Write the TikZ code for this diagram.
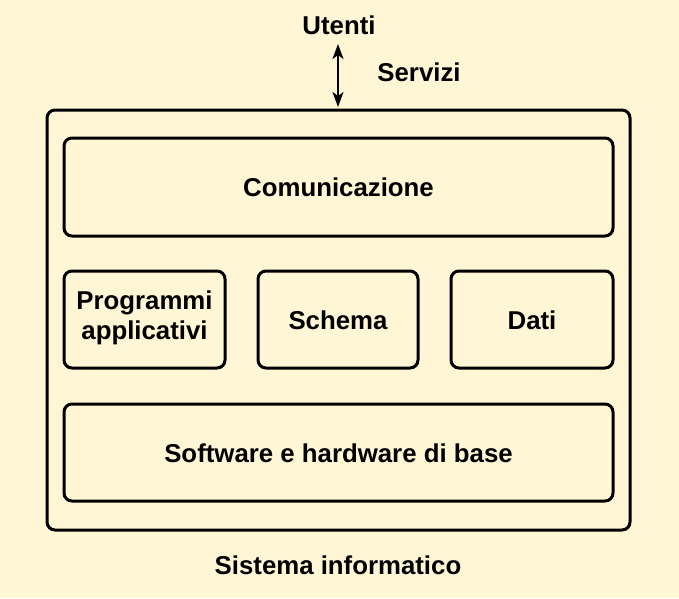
\documentclass[tikz,border=0pt]{standalone}
\usepackage{fontspec}
\setmainfont{Liberation Sans}
\usetikzlibrary{arrows.meta}
\definecolor{bgcol}{RGB}{255,246,214}
\begin{document}
\begin{tikzpicture}[x=1pt,y=-1pt,
  lbl/.style={font=\fontsize{25.8}{30}\selectfont\bfseries, inner sep=0pt, align=center},
  blk/.style={draw=black, line width=3pt, rounded corners=8pt, fill=none}]
\fill[bgcol] (0,0) rectangle (679,598);
\useasboundingbox (0,0) rectangle (679,598);
% outer
\draw[blk] (47,110) rectangle (630,530);
% inner boxes
\draw[blk] (64,138) rectangle (613,236);
\node[lbl] (com) at (338.5,187) {Comunicazione};
\draw[blk] (64,271) rectangle (225,368);
\node[lbl] (prog) at (144.5,318) {Programmi\\applicativi};
\draw[blk] (258,271) rectangle (418,368);
\node[lbl] (sch) at (338,320) {Schema};
\draw[blk] (451,271) rectangle (613,368);
\node[lbl] (dati) at (532,320) {Dati};
\draw[blk] (64,404) rectangle (613,501);
\node[lbl] (sw) at (338.5,453) {Software e hardware di base};
% top
\node[lbl] (ut) at (339,25) {Utenti};
\node[lbl] (serv) at (419,72) {Servizi};
\coordinate (atop) at (338,44);
\coordinate (abot) at (338,107);
\draw[line width=2pt, {Stealth[length=15pt,width=11pt,inset=4pt]}-{Stealth[length=15pt,width=11pt,inset=4pt]}] (atop) -- (abot);
\node[lbl] (sis) at (338,565) {Sistema informatico};
\end{tikzpicture}
\end{document}
